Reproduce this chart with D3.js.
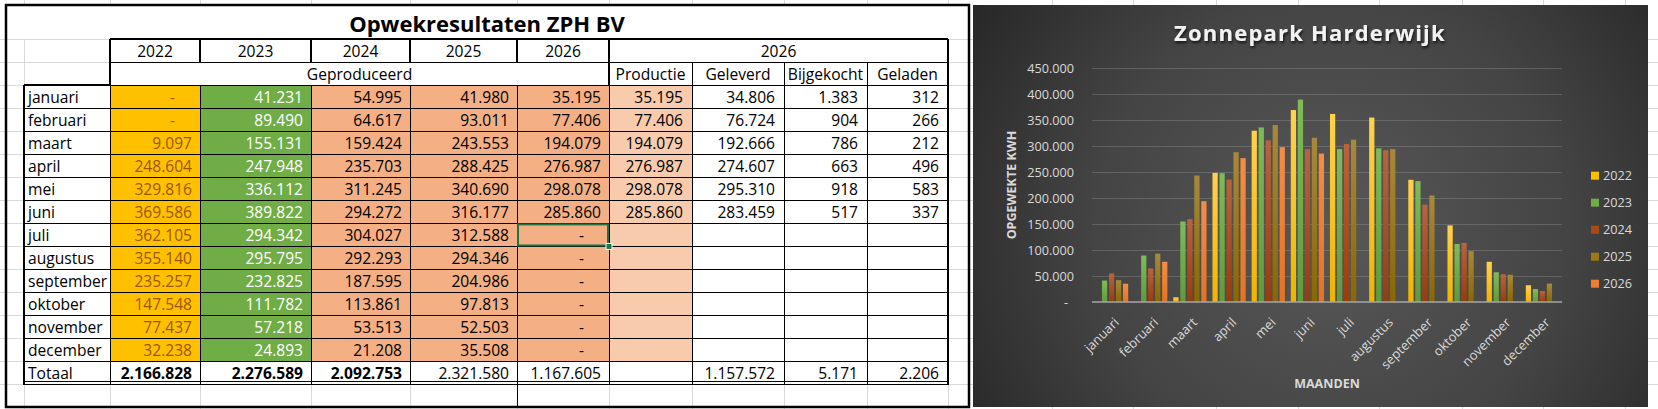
<!DOCTYPE html>
<html>
<head>
<meta charset="utf-8">
<script src="https://cdn.jsdelivr.net/npm/d3@7"></script>
<style>
  body { margin: 0; background: #fff; }
  svg { display: block; font-family: "Open Sans", sans-serif; }
</style>
</head>
<body>
<svg id="sheet" width="1658" height="409"></svg>
<script>
// values as read from the sheet (null = "-" / empty)
const months = ["januari", "februari", "maart", "april", "mei", "juni",
  "juli", "augustus", "september", "oktober", "november", "december"];
const years = ["2022", "2023", "2024", "2025", "2026"];

const prod2022 = [null, null, 9097, 248604, 329816, 369586, 362105, 355140, 235257, 147548, 77437, 32238];
const prod2023 = [41231, 89490, 155131, 247948, 336112, 389822, 294342, 295795, 232825, 111782, 57218, 24893];
const prod2024 = [54995, 64617, 159424, 235703, 311245, 294272, 304027, 292293, 187595, 113861, 53513, 21208];
const prod2025 = [41980, 93011, 243553, 288425, 340690, 316177, 312588, 294346, 204986, 97813, 52503, 35508];
const prod2026 = [35195, 77406, 194079, 276987, 298078, 285860, null, null, null, null, null, null];

const productie = [35195, 77406, 194079, 276987, 298078, 285860];
const geleverd = [34806, 76724, 192666, 274607, 295310, 283459];
const bijgekocht = [1383, 904, 786, 663, 918, 517];
const geladen = [312, 266, 212, 496, 583, 337];

const subHeads = ["Productie", "Geleverd", "Bijgekocht", "Geladen"];

const nl = d3.formatLocale({decimal: ",", thousands: ".", grouping: [3], currency: ["€ ", ""]});
const fmt = nl.format(",d");

const svg = d3.select("#sheet");
const W = 1658, H = 409;

// ---------- spreadsheet background ----------
const colEdges = [24, 110, 200, 311, 410, 517, 609, 692, 784, 867, 948];
const gridCols = colEdges.concat([1052, 1133, 1216, 1298, 1379, 1462, 1543, 1625]);
const rowH = 23.05;
const rowTop = i => 39 + i * rowH;

svg.append("rect").attr("width", W).attr("height", H).attr("fill", "#fff");

const grid = svg.append("g").attr("stroke", "#d9d9d9").attr("shape-rendering", "crispEdges");
grid.selectAll("line.v").data(gridCols).join("line")
  .attr("x1", d => d).attr("x2", d => d).attr("y1", 0).attr("y2", H);
grid.selectAll("line.h").data(d3.range(16)).join("line")
  .attr("x1", 0).attr("x2", W).attr("y1", d => rowTop(d)).attr("y2", d => rowTop(d));

// title row (merged)
svg.append("rect").attr("x", 6).attr("y", 5).attr("width", 963).attr("height", 34).attr("fill", "#fff");
svg.append("text").attr("x", 487).attr("y", 32).attr("text-anchor", "middle")
  .attr("font-size", 22).attr("font-weight", 700).text("Opwekresultaten ZPH BV");

// ---------- table cells ----------
const table = svg.append("g");
const fills = ["#ffc000", "#70ad47", "#f4b084", "#f4b084", "#f4b084", "#f8cbad", "#fff", "#fff", "#fff"];
const inks = ["#9c5700", "#fff", "#000", "#000", "#000", "#000", "#000", "#000", "#000"];
const yearCols = [prod2022, prod2023, prod2024, prod2025, prod2026];
const extraCols = [productie, geleverd, bijgekocht, geladen];

function cellRect(c, r, fill) {
  table.append("rect")
    .attr("x", colEdges[c]).attr("y", rowTop(r))
    .attr("width", colEdges[c + 1] - colEdges[c]).attr("height", rowH)
    .attr("fill", fill).attr("stroke", "#000").attr("stroke-width", 1)
    .attr("shape-rendering", "crispEdges");
}
function cellText(c, r, txt, opt = {}) {
  const align = opt.align || "end";
  const x = align === "start" ? colEdges[c] + 4
    : align === "middle" ? (colEdges[c] + colEdges[c + 1]) / 2
    : colEdges[c + 1] - (opt.pad || 8);
  table.append("text").attr("x", x).attr("y", rowTop(r + 1) - 5.5)
    .attr("text-anchor", align).attr("font-size", 15.6)
    .attr("font-weight", opt.bold ? 700 : 400)
    .attr("fill", opt.ink || "#000").text(txt);
}

// header row: years
years.forEach((yr, i) => { cellRect(i + 1, 0, "#fff"); cellText(i + 1, 0, yr, {align: "middle"}); });
table.append("rect").attr("x", 609).attr("y", rowTop(0)).attr("width", 339).attr("height", rowH)
  .attr("fill", "#fff").attr("stroke", "#000").attr("shape-rendering", "crispEdges");
table.append("text").attr("x", (609 + 948) / 2).attr("y", rowTop(1) - 5.5).attr("text-anchor", "middle")
  .attr("font-size", 15.6).text("2026");

// sub header
table.append("rect").attr("x", 110).attr("y", rowTop(1)).attr("width", 499).attr("height", rowH)
  .attr("fill", "#fff").attr("stroke", "#000").attr("shape-rendering", "crispEdges");
table.append("text").attr("x", (110 + 609) / 2).attr("y", rowTop(2) - 5.5).attr("text-anchor", "middle")
  .attr("font-size", 15.6).text("Geproduceerd");
subHeads.forEach((s, i) => { cellRect(i + 6, 1, "#fff"); cellText(i + 6, 1, s, {align: "middle"}); });

// month rows
months.forEach((m, mi) => {
  const r = mi + 2;
  cellRect(0, r, "#fff");
  cellText(0, r, m, {align: "start"});
  yearCols.forEach((col, ci) => {
    cellRect(ci + 1, r, fills[ci]);
    const v = col[mi];
    if (v == null) cellText(ci + 1, r, "-", {ink: inks[ci], pad: 25});
    else cellText(ci + 1, r, fmt(v), {ink: inks[ci]});
  });
  extraCols.forEach((col, ci) => {
    cellRect(ci + 6, r, fills[ci + 5]);
    const v = col[mi];
    if (v != null) cellText(ci + 6, r, fmt(v), {pad: 9});
  });
});

// totals
const totRow = 14;
cellRect(0, totRow, "#fff");
cellText(0, totRow, "Totaal", {align: "start"});
yearCols.forEach((col, ci) => {
  cellRect(ci + 1, totRow, "#fff");
  cellText(ci + 1, totRow, fmt(d3.sum(col)), {bold: ci < 3});
});
cellRect(5 + 1, totRow, "#fff");
[geleverd, bijgekocht, geladen].forEach((col, ci) => {
  cellRect(ci + 7, totRow, "#fff");
  cellText(ci + 7, totRow, fmt(d3.sum(col)), {pad: 9});
});

// heavier borders
const heavy = table.append("g").attr("stroke", "#000").attr("stroke-width", 2).attr("shape-rendering", "crispEdges");
[[110, rowTop(0), 948, rowTop(0)],
 [110, rowTop(0), 110, rowTop(2)],
 [200, rowTop(0), 200, rowTop(1)], [311, rowTop(0), 311, rowTop(1)],
 [410, rowTop(0), 410, rowTop(1)], [517, rowTop(0), 517, rowTop(1)],
 [609, rowTop(0), 609, rowTop(2)],
 [948, rowTop(0), 948, rowTop(15)],
 [24, rowTop(2), 24, rowTop(15)],
 [24, rowTop(2), 110, rowTop(2)]
].forEach(d => heavy.append("line").attr("x1", d[0]).attr("y1", d[1]).attr("x2", d[2]).attr("y2", d[3]));

// double bottom line under totals
[rowTop(15) - 3, rowTop(15)].forEach(yy => table.append("line")
  .attr("x1", 24).attr("x2", 948).attr("y1", yy).attr("y2", yy)
  .attr("stroke", "#000").attr("shape-rendering", "crispEdges"));
table.append("line").attr("x1", 517).attr("x2", 517).attr("y1", rowTop(15)).attr("y2", 407)
  .attr("stroke", "#000").attr("shape-rendering", "crispEdges");

// active cell (juli 2026)
table.append("rect").attr("x", 518).attr("y", rowTop(8) + 1).attr("width", 90).attr("height", rowH - 2)
  .attr("fill", "none").attr("stroke", "#217346").attr("stroke-width", 2);
table.append("rect").attr("x", 606).attr("y", rowTop(9) - 3).attr("width", 6).attr("height", 6)
  .attr("fill", "#217346").attr("stroke", "#fff").attr("stroke-width", 1);

// outer box
svg.append("rect").attr("x", 6).attr("y", 5).attr("width", 963).attr("height", 402)
  .attr("fill", "none").attr("stroke", "#000").attr("stroke-width", 2.5);

// ---------- chart ----------
const chart = svg.append("g");
const defs = svg.append("defs");

const bg = defs.append("radialGradient").attr("id", "bg").attr("gradientUnits", "userSpaceOnUse")
  .attr("cx", 1330).attr("cy", 230).attr("r", 430);
bg.append("stop").attr("offset", 0).attr("stop-color", "#585858");
bg.append("stop").attr("offset", 0.55).attr("stop-color", "#444");
bg.append("stop").attr("offset", 1).attr("stop-color", "#262626");

const shadow = defs.append("filter").attr("id", "shadow").attr("x", "-10%").attr("y", "-30%").attr("width", "120%").attr("height", "160%");
shadow.append("feDropShadow").attr("dx", 1).attr("dy", 2).attr("stdDeviation", 1.5)
  .attr("flood-color", "#000").attr("flood-opacity", 0.75);

const barColors = {
  "2022": ["#ffd24d", "#efb400", "#ffc000"],
  "2023": ["#7fbb58", "#5f9b3a", "#70ad47"],
  "2024": ["#b8643f", "#983c0b", "#a94a16"],
  "2025": ["#a8893c", "#8a6700", "#9c7a12"],
  "2026": ["#f28d48", "#e6721f", "#ed7d31"]
};
years.forEach(yr => {
  const g = defs.append("linearGradient").attr("id", "g" + yr)
    .attr("x1", 0).attr("y1", 0).attr("x2", 0).attr("y2", 1);
  g.append("stop").attr("offset", 0).attr("stop-color", barColors[yr][0]);
  g.append("stop").attr("offset", 1).attr("stop-color", barColors[yr][1]);
});

chart.append("rect").attr("x", 973).attr("y", 5).attr("width", 675).attr("height", 402)
  .attr("fill", "url(#bg)");

chart.append("text").attr("x", 1310).attr("y", 41).attr("text-anchor", "middle")
  .attr("font-size", 22).attr("font-weight", 700).attr("letter-spacing", 1.2)
  .attr("fill", "#f2f2f2").attr("filter", "url(#shadow)").text("Zonnepark Harderwijk");

const y = d3.scaleLinear().domain([0, 450000]).range([302, 68.3]);
const x0 = d3.scaleBand().domain(months).range([1092, 1562]);
const x1 = d3.scaleBand().domain(years).range([0, x0.bandwidth()]).paddingInner(0.25).paddingOuter(0.425);

// gridlines
chart.append("g").selectAll("line").data(y.ticks(9).filter(d => d > 0)).join("line")
  .attr("x1", 1092).attr("x2", 1562).attr("y1", d => y(d)).attr("y2", d => y(d))
  .attr("stroke", "#d9d9d9").attr("stroke-opacity", 0.2).attr("shape-rendering", "crispEdges");

// y axis
chart.append("g").attr("transform", "translate(1092,0)")
  .call(d3.axisLeft(y).ticks(9).tickSize(0).tickPadding(18).tickFormat(d => d === 0 ? "-" : fmt(d)))
  .call(g => g.select(".domain").remove())
  .call(g => g.selectAll("text").attr("fill", "#d9d9d9").attr("font-size", 12.7)
    .attr("font-family", "Open Sans, sans-serif"))
  .call(g => g.selectAll(".tick").filter(d => d === 0).select("text").attr("dx", -6));

// bars
const series = years.map((yr, i) => ({year: yr, values: yearCols[i]}));
chart.append("g").selectAll("g").data(series).join("g")
  .attr("fill", d => `url(#g${d.year})`)
  .selectAll("rect")
  .data(d => d.values.map((v, i) => ({year: d.year, month: months[i], v})).filter(e => e.v))
  .join("rect")
  .attr("x", d => x0(d.month) + x1(d.year))
  .attr("width", x1.bandwidth())
  .attr("y", d => y(d.v))
  .attr("height", d => y(0) - y(d.v));

// zero axis line
chart.append("line").attr("x1", 1092).attr("x2", 1562).attr("y1", y(0)).attr("y2", y(0))
  .attr("stroke", "#a6a6a6").attr("stroke-width", 1.5);

// x axis
chart.append("g").attr("transform", `translate(0,${y(0)})`)
  .call(d3.axisBottom(x0).tickSize(0))
  .call(g => g.select(".domain").remove())
  .call(g => g.selectAll("text")
    .attr("y", null).attr("dy", "0.35em")
    .attr("text-anchor", "end")
    .attr("transform", "translate(5,18) rotate(-45)")
    .attr("fill", "#d9d9d9").attr("font-size", 13)
    .attr("font-family", "Open Sans, sans-serif"));

// axis titles
chart.append("text").attr("transform", "translate(1013,185) rotate(-90)")
  .attr("text-anchor", "middle").attr("dominant-baseline", "middle")
  .attr("font-size", 12.5).attr("font-weight", 700).attr("fill", "#d9d9d9").text("OPGEWEKTE KWH");
chart.append("text").attr("x", 1327).attr("y", 388).attr("text-anchor", "middle")
  .attr("font-size", 12.5).attr("font-weight", 700).attr("fill", "#d9d9d9").text("MAANDEN");

// legend
const ly = d3.scalePoint().domain(years).range([175.7, 283.7]);
const leg = chart.append("g").selectAll("g").data(years).join("g")
  .attr("transform", d => `translate(1591,${ly(d)})`);
leg.append("rect").attr("x", 0).attr("y", -4).attr("width", 8).attr("height", 8)
  .attr("fill", d => barColors[d][2]);
leg.append("text").attr("x", 12).attr("dy", "0.35em").attr("font-size", 12.7)
  .attr("fill", "#d9d9d9").text(d => d);
</script>
</body>
</html>
